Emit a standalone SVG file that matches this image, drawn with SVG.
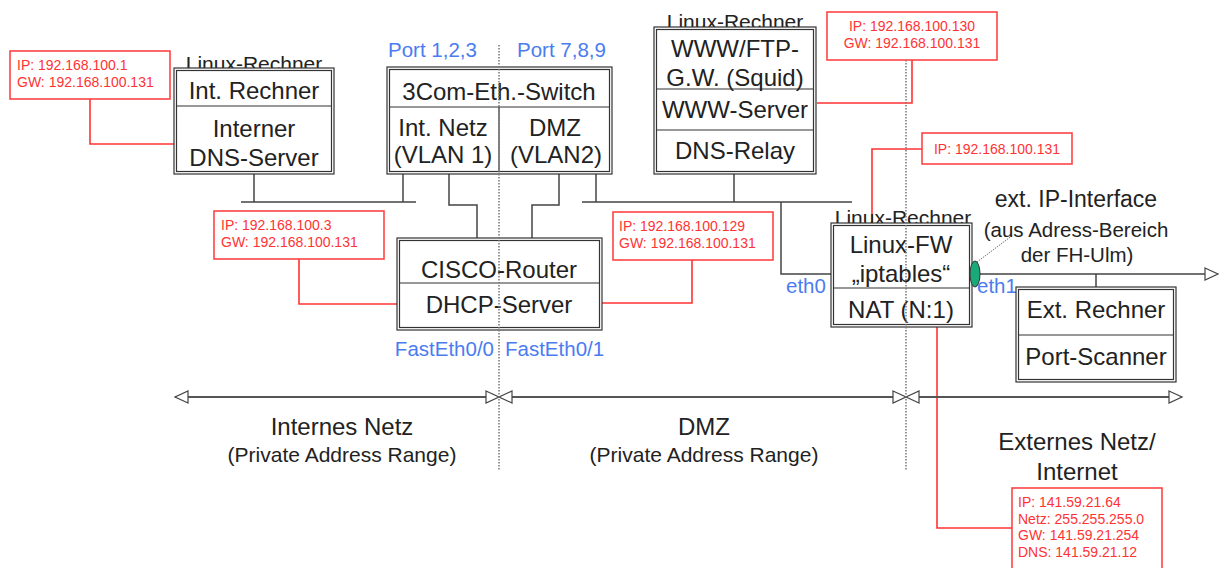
<svg xmlns="http://www.w3.org/2000/svg" width="1220" height="568" viewBox="0 0 1220 568">
<style>
text{font-family:"Liberation Sans",Arial,sans-serif;fill:#222}
.big{font-size:24px}
.lab{font-size:21px}
.mid{font-size:20.5px}
.blue{fill:#4a7cf0;font-size:20.5px}
.red{fill:#f33;font-size:14px}
.c{text-anchor:middle}
.box{fill:#fff;stroke:#333;stroke-width:1.2}
.inner{fill:none;stroke:#333;stroke-width:1.2}
.div{stroke:#333;stroke-width:1.2}
.bus{fill:none;stroke:#444;stroke-width:1.5}
.rbox{fill:#fff;stroke:#f44;stroke-width:1.6}
.rline{fill:none;stroke:#f33;stroke-width:1.6}
.dot{stroke:#777;stroke-width:1.5;stroke-dasharray:1.5,1.5}
.range{stroke:#555;stroke-width:2.2;fill:none;marker-start:url(#arr);marker-end:url(#arr)}
</style>
<defs>
<marker id="arr" markerUnits="userSpaceOnUse" markerWidth="16" markerHeight="14" refX="13" refY="6" orient="auto-start-reverse" viewBox="-1 -1 16 14">
<path d="M0,0 L13,6 L0,12 z" fill="#fff" stroke="#444" stroke-width="1.2"/>
</marker>
</defs>

<g id="connectors">
<path class="bus" d="M241,202 H416 M254,174 V202 M403,174 V202"/>
<path class="bus" d="M449,174 V205 H477 V238 M559,174 V205 H532 V238"/>
<path class="bus" d="M582,202 H852 M596,174 V202 M734,174 V202 M781,202 V274 H831"/>
<path class="bus" d="M980,274 H1205 M1096,274 V287"/>
<path d="M1205,268 L1218,274 L1205,280 z" fill="#fff" stroke="#444" stroke-width="1.2"/>
<path d="M977,262 L1013,235" stroke="#777" stroke-width="1" stroke-dasharray="1.5,1"/>
<path class="rline" d="M90,99 V144 H175"/>
<path class="rline" d="M299,259 V304 H397"/>
<path class="rline" d="M692,260 V303 H602"/>
<path class="rline" d="M912,60 V103 H817"/>
<path class="rline" d="M922,149 H872 V223"/>
<path class="rline" d="M937,327 V528 H1012"/>
<path class="range" d="M175,397 H499"/>
<path class="range" d="M499,397 H906"/>
<path class="range" d="M906,397 H1182"/>
</g>

<g id="ip-int">
<rect class="rbox" x="10" y="51" width="160" height="48"/>
<text class="red" x="17" y="70">IP: 192.168.100.1</text>
<text class="red" x="17" y="87">GW: 192.168.100.131</text>
</g>

<g id="int-rechner">
<text class="lab c" x="254" y="71">Linux-Rechner</text>
<rect class="box" x="174" y="68" width="160" height="106"/>
<rect class="inner" x="176.5" y="70.5" width="155" height="101"/>
<line class="div" x1="176.5" y1="106" x2="331.5" y2="106"/>
<text class="big c" x="254" y="99">Int. Rechner</text>
<text class="big c" x="254" y="137">Interner</text>
<text class="big c" x="254" y="166">DNS-Server</text>
</g>

<g id="switch">
<text class="blue" x="388" y="57">Port 1,2,3</text>
<text class="blue" x="517" y="57">Port 7,8,9</text>
<rect class="box" x="387" y="67" width="225" height="107"/>
<rect class="inner" x="389.5" y="69.5" width="220" height="102"/>
<line class="div" x1="389.5" y1="107" x2="609.5" y2="107"/>
<line class="div" x1="499" y1="107" x2="499" y2="171.5"/>
<text class="big c" x="499" y="100">3Com-Eth.-Switch</text>
<text class="big c" x="443" y="136">Int. Netz</text>
<text class="big c" x="443" y="163">(VLAN 1)</text>
<text class="big c" x="555" y="136">DMZ</text>
<text class="big c" x="556" y="163">(VLAN2)</text>
</g>

<g id="www">
<text class="lab c" x="735" y="29">Linux-Rechner</text>
<rect class="box" x="654" y="27" width="162" height="147"/>
<rect class="inner" x="656.5" y="29.5" width="157" height="142"/>
<line class="div" x1="656.5" y1="89" x2="813.5" y2="89"/>
<line class="div" x1="656.5" y1="130" x2="813.5" y2="130"/>
<text class="big c" x="735" y="57">WWW/FTP-</text>
<text class="big c" x="735" y="86">G.W. (Squid)</text>
<text class="big c" x="735" y="118">WWW-Server</text>
<text class="big c" x="735" y="159">DNS-Relay</text>
</g>

<g id="ip-www">
<rect class="rbox" x="827" y="12" width="170" height="48"/>
<text class="red c" x="912" y="31">IP: 192.168.100.130</text>
<text class="red c" x="912" y="48">GW: 192.168.100.131</text>
</g>

<g id="ip-fw">
<rect class="rbox" x="922" y="133" width="150" height="31"/>
<text class="red c" x="997" y="154">IP: 192.168.100.131</text>
</g>

<g id="ip-intnet">
<rect class="rbox" x="214" y="211" width="170" height="48"/>
<text class="red" x="221" y="230">IP: 192.168.100.3</text>
<text class="red" x="221" y="247">GW: 192.168.100.131</text>
</g>

<g id="ip-dmz">
<rect class="rbox" x="613" y="212" width="160" height="48"/>
<text class="red" x="619" y="231">IP: 192.168.100.129</text>
<text class="red" x="619" y="248">GW: 192.168.100.131</text>
</g>

<g id="router">
<rect class="box" x="397" y="238" width="205" height="92"/>
<rect class="inner" x="399.5" y="240.5" width="200" height="87"/>
<line class="div" x1="399.5" y1="283" x2="599.5" y2="283"/>
<text class="big c" x="499" y="278">CISCO-Router</text>
<text class="big c" x="499" y="313">DHCP-Server</text>
<text class="blue" x="494" y="356" text-anchor="end">FastEth0/0</text>
<text class="blue" x="505" y="356">FastEth0/1</text>
</g>

<g id="firewall">
<text class="lab c" x="903" y="225">Linux-Rechner</text>
<rect class="box" x="831" y="223" width="141" height="104"/>
<rect class="inner" x="833.5" y="225.5" width="136" height="99"/>
<line class="div" x1="833.5" y1="288" x2="969.5" y2="288"/>
<text class="big c" x="901" y="253">Linux-FW</text>
<text class="big c" x="901" y="282">„iptables“</text>
<text class="big c" x="901" y="318">NAT (N:1)</text>
<text class="blue" x="786" y="293">eth0</text>
<text class="blue" x="977" y="293">eth1</text>
<ellipse cx="975" cy="274" rx="5" ry="13" fill="#1aaa7a" stroke="#333" stroke-width="1"/>
</g>

<g id="ext-if">
<text class="c" x="1076" y="207" font-size="23">ext. IP-Interface</text>
<text class="mid c" x="1076" y="237">(aus Adress-Bereich</text>
<text class="mid c" x="1077" y="262">der FH-Ulm)</text>
</g>

<g id="ext-rechner">
<rect class="box" x="1016" y="287" width="160" height="95"/>
<rect class="inner" x="1018.5" y="289.5" width="155" height="90"/>
<line class="div" x1="1018.5" y1="335" x2="1173.5" y2="335"/>
<text class="big c" x="1096" y="318">Ext. Rechner</text>
<text class="big c" x="1096" y="365">Port-Scanner</text>
</g>

<g id="zones">
<text class="big c" x="342" y="435">Internes Netz</text>
<text class="lab c" x="342" y="462">(Private Address Range)</text>
<text class="big c" x="704" y="435">DMZ</text>
<text class="lab c" x="704" y="462">(Private Address Range)</text>
<text class="big c" x="1077" y="450">Externes Netz/</text>
<text class="big c" x="1077" y="480">Internet</text>
</g>

<g id="ip-ext">
<rect class="rbox" x="1012" y="488" width="150" height="92"/>
<text class="red" x="1018" y="507">IP: 141.59.21.64</text>
<text class="red" x="1018" y="523.5">Netz: 255.255.255.0</text>
<text class="red" x="1018" y="540">GW: 141.59.21.254</text>
<text class="red" x="1018" y="556.5">DNS: 141.59.21.12</text>
</g>

<g id="separators">
<line class="dot" x1="499" y1="45" x2="499" y2="470"/>
<line class="dot" x1="906" y1="60" x2="906" y2="470"/>
</g>
</svg>
